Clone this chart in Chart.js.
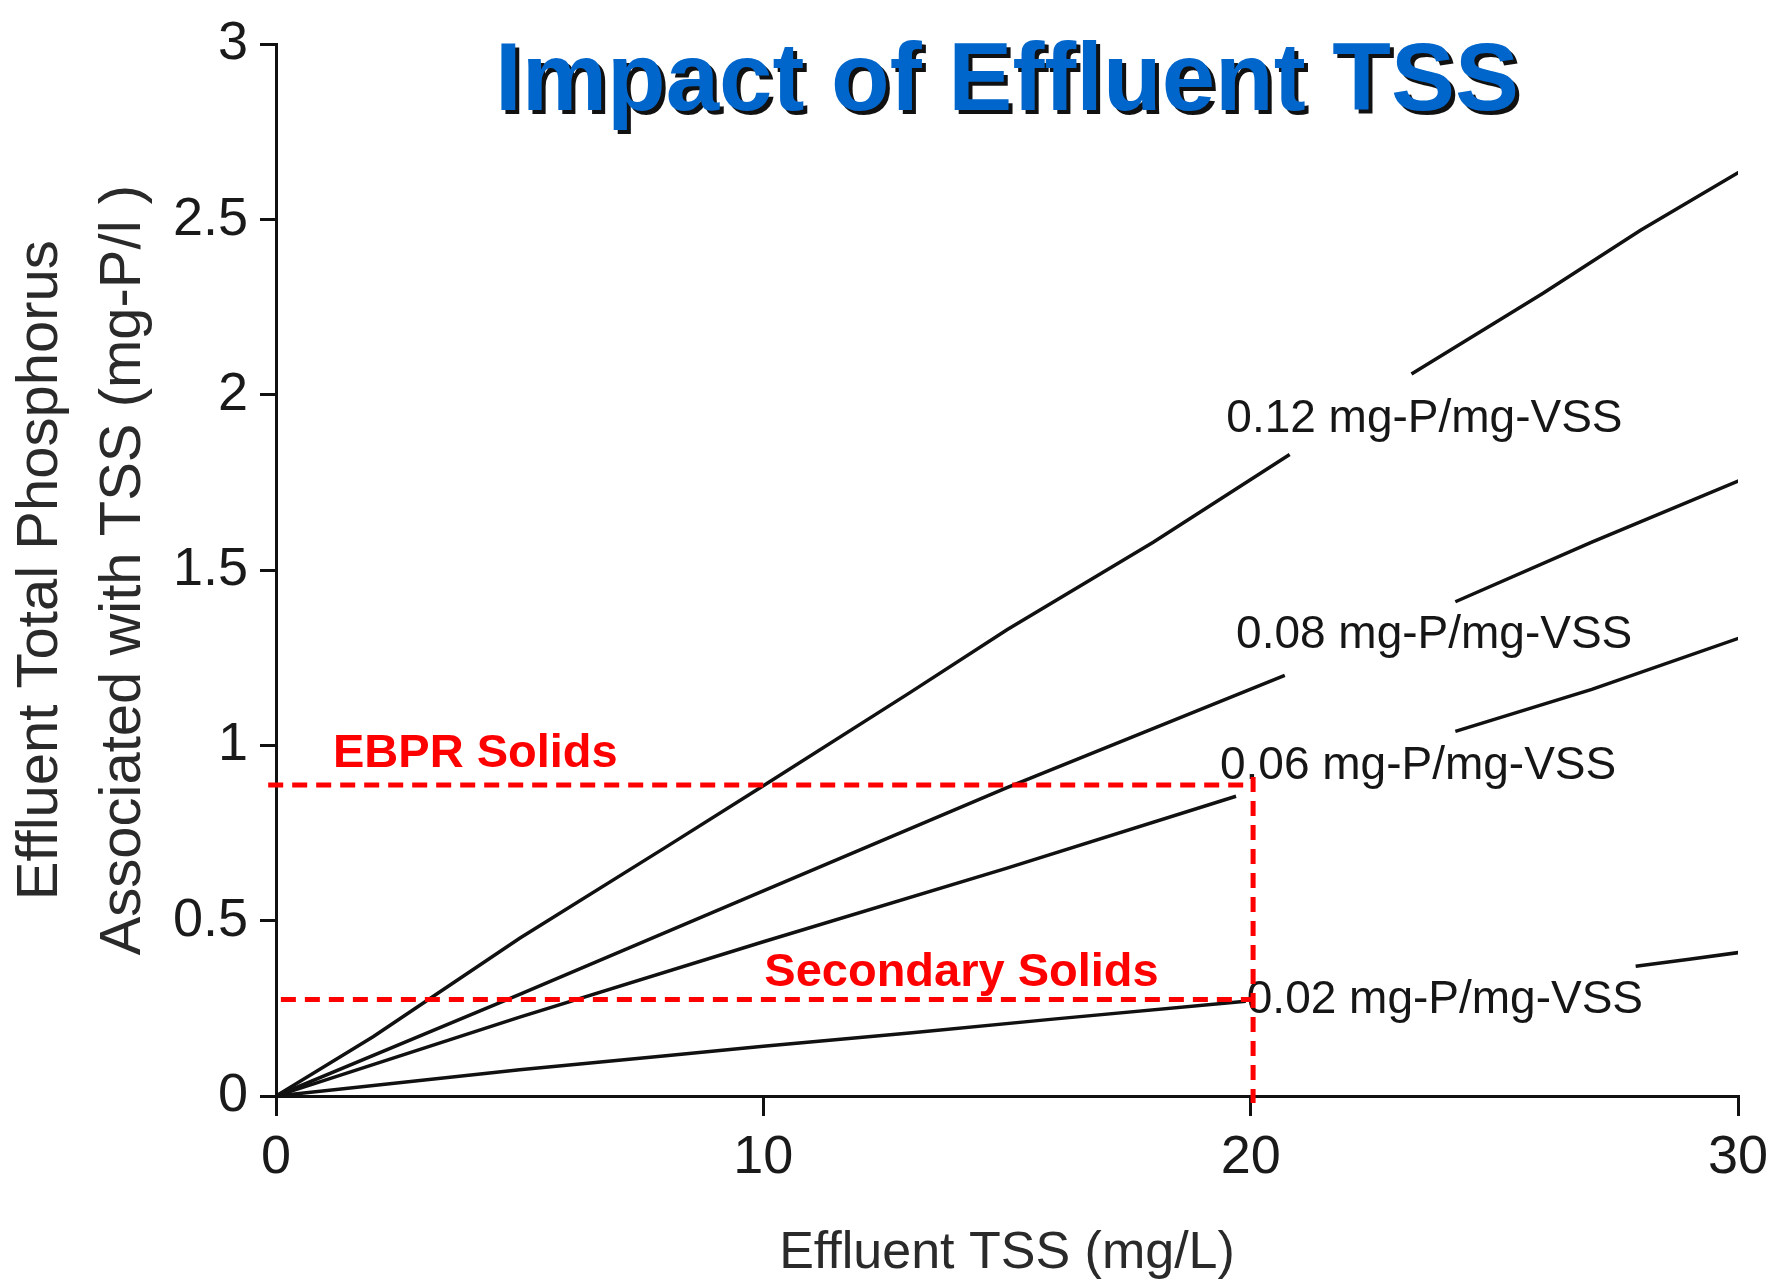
<!DOCTYPE html>
<html>
<head>
<meta charset="utf-8">
<title>Impact of Effluent TSS</title>
<script src="https://cdn.jsdelivr.net/npm/chart.js@4.4.1/dist/chart.umd.min.js"></script>
<style>
  html, body { margin: 0; padding: 0; background: #fff; }
  #wrap { width: 1787px; height: 1288px; position: relative; }
</style>
</head>
<body>
<div id="wrap"><canvas id="myChart"></canvas></div>
<script>
// Effluent TSS (mg/L) vs. effluent TP tied to TSS (mg-P/l).
// null = gap in the curve where its label sits
const x012 = [0, 2, 5, 8, 10, 13, 15, 18, 20.8, 22, 23.3, 26, 28, 30.2];
const y012 = [0, 0.17, 0.45, 0.71, 0.885, 1.15, 1.33, 1.58, 1.83, null, 2.06, 2.29, 2.47, 2.65];
const x008 = [0, 5, 10, 15, 20.7, 22, 24.2, 27, 30.1];
const y008 = [0, 0.29, 0.585, 0.88, 1.2, null, 1.41, 1.58, 1.76];
const x006 = [0, 5, 10, 15, 19.7, 22, 24.2, 27, 30.1];
const y006 = [0, 0.225, 0.44, 0.65, 0.855, null, 1.04, 1.16, 1.31];
const x002 = [0, 5, 8, 10, 13, 16, 19.9, 24, 27.9, 29, 30.05];
const y002 = [0, 0.075, 0.115, 0.142, 0.18, 0.22, 0.27, null, 0.37, 0.39, 0.41];

// curve labels and where they sit (data units, left / baseline)
const curveNames = ["0.12 mg-P/mg-VSS", "0.08 mg-P/mg-VSS", "0.06 mg-P/mg-VSS", "0.02 mg-P/mg-VSS"];
const nameX = [19.5, 19.7, 19.37, 19.92];
const nameY = [1.894, 1.279, 0.904, 0.238];

// red reference lines: EBPR solids and secondary solids at 20 mg/L TSS
const refTss = 20.05;
const ebprTP = 0.887;
const secondaryTP = 0.275;
const noteNames = ["EBPR Solids", "Secondary Solids"];
const noteX = [1.17, 10.02];
const noteY = [0.938, 0.315];

const xTicks = [0, 10, 20, 30];
const yTicks = [0, 0.5, 1, 1.5, 2, 2.5, 3];
const yTickLabels = ['0', '0.5', '1', '1.5', '2', '2.5', '3'];

const FONT = "'Liberation Sans', Arial, Helvetica, sans-serif";
Chart.defaults.font.family = FONT;
Chart.defaults.color = '#222';

function pts(xs, ys) {
    return xs.map((v, i) => ({ x: v, y: ys[i] }));
}

function curve(label, xs, ys) {
    return {
        label: label,
        data: pts(xs, ys),
        showLine: true,
        borderColor: '#111',
        borderWidth: 3.5,
        pointRadius: 0,
        spanGaps: false,
        order: 1
    };
}

function redLine(label, data) {
    return {
        label: label,
        data: data,
        showLine: true,
        borderColor: '#ff0000',
        borderWidth: 5,
        borderDash: [15, 9],
        pointRadius: 0,
        clip: false,
        order: 0
    };
}

const notes = {
    id: 'notes',
    beforeDatasetsDraw(chart) {
        const { ctx, scales: { x, y } } = chart;
        ctx.save();
        ctx.font = "46px " + FONT;
        ctx.fillStyle = '#161616';
        ctx.textAlign = 'left';
        ctx.textBaseline = 'alphabetic';
        curveNames.forEach((t, i) => {
            ctx.fillText(t, x.getPixelForValue(nameX[i]), y.getPixelForValue(nameY[i]));
        });
        ctx.restore();
    },
    afterDatasetsDraw(chart) {
        const { ctx, chartArea, scales: { x, y } } = chart;
        ctx.save();
        ctx.font = "bold 47px " + FONT;
        ctx.fillStyle = '#ff0000';
        ctx.textAlign = 'left';
        ctx.textBaseline = 'alphabetic';
        noteNames.forEach((t, i) => {
            ctx.fillText(t, x.getPixelForValue(noteX[i]), y.getPixelForValue(noteY[i]));
        });

        // title with dark drop shadow
        const title = "Impact of Effluent TSS";
        const cx = (chartArea.left + chartArea.right) / 2;
        const by = chartArea.top + 66;
        ctx.font = "bold 96px " + FONT;
        ctx.textAlign = 'center';
        ctx.fillStyle = '#111';
        ctx.fillText(title, cx + 4, by + 4);
        ctx.fillStyle = '#0066cc';
        ctx.fillText(title, cx, by);
        ctx.restore();
    }
};

new Chart(document.getElementById('myChart'), {
    type: 'scatter',
    data: {
        datasets: [
            redLine('EBPR Solids', [{ x: -0.16, y: ebprTP }, { x: refTss, y: ebprTP }]),
            redLine('Secondary Solids', [{ x: 0.1, y: secondaryTP }, { x: refTss, y: secondaryTP }]),
            redLine('20 mg/L', [{ x: refTss, y: 0.91 }, { x: refTss, y: -0.02 }]),
            curve(curveNames[0], x012, y012),
            curve(curveNames[1], x008, y008),
            curve(curveNames[2], x006, y006),
            curve(curveNames[3], x002, y002)
        ]
    },
    options: {
        responsive: true,
        maintainAspectRatio: false,
        animation: false,
        layout: { padding: { top: 38, right: 49, left: 0, bottom: 0 } },
        plugins: {
            legend: { display: false },
            tooltip: { enabled: false }
        },
        scales: {
            x: {
                type: 'linear',
                min: 0,
                max: 30,
                afterFit: (s) => { s.height = 192; },
                afterBuildTicks: (s) => { s.ticks = xTicks.map(v => ({ value: v })); },
                border: { display: true, color: '#111', width: 3 },
                grid: { drawOnChartArea: false, drawTicks: true, tickLength: 20, color: '#111', lineWidth: 3 },
                ticks: { font: { size: 54 }, color: '#1a1a1a', padding: 10, maxRotation: 0 },
                title: {
                    display: true,
                    text: 'Effluent TSS (mg/L)',
                    color: '#2a2a2a',
                    font: { size: 52 },
                    padding: { top: 0, bottom: 3 }
                }
            },
            y: {
                type: 'linear',
                min: 0,
                max: 3,
                afterFit: (s) => { s.width = 276; },
                afterBuildTicks: (s) => { s.ticks = yTicks.map(v => ({ value: v })); },
                border: { display: true, color: '#111', width: 3 },
                grid: { drawOnChartArea: false, drawTicks: true, tickLength: 16, color: '#111', lineWidth: 3 },
                ticks: {
                    font: { size: 54 },
                    color: '#1a1a1a',
                    padding: 12,
                    callback: (v, i) => yTickLabels[i]
                },
                title: {
                    display: true,
                    text: ['Effluent Total Phosphorus', 'Associated with TSS (mg-P/l )'],
                    color: '#2a2a2a',
                    font: { size: 58, lineHeight: 1.43 },
                    padding: { top: 0, bottom: 0 }
                }
            }
        }
    },
    plugins: [notes]
});
</script>
</body>
</html>
